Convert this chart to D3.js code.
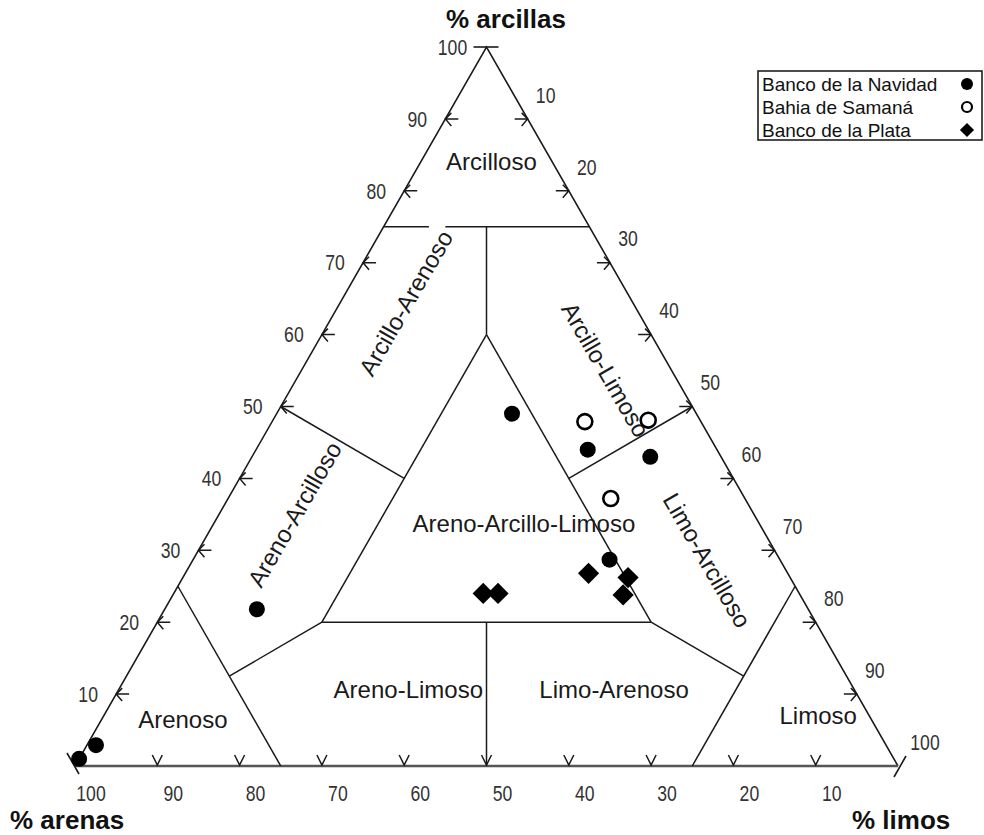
<!DOCTYPE html>
<html>
<head>
<meta charset="utf-8">
<script src="https://cdn.jsdelivr.net/npm/d3@7/dist/d3.min.js"></script>
<style>
  html, body { margin: 0; padding: 0; background: #fff; }
  svg { display: block; font-family: "Liberation Sans", Arial, sans-serif; }
</style>
</head>
<body>
<svg id="chart" width="984" height="835"></svg>
<script>
// Ternary soil-texture diagram: % arcillas (top), % arenas (left), % limos (right)

// Samples: clay, silt, sand percentages
const navidadClay = [49, 44, 43, 28.7, 21.8, 2.9, 1];
const navidadSilt = [28.6, 40.3, 48.4, 50.6, 11.2, 1.1, 0];
const navidadSand = [22.4, 15.7, 8.6, 20.7, 67, 96, 99];

const samanaClay = [47.9, 48.1, 37.2];
const samanaSilt = [38, 45.6, 46.5];
const samanaSand = [14.1, 6.3, 16.3];

const plataClay = [24, 24, 26.8, 26.2, 23.8];
const plataSilt = [37.6, 39.4, 49, 54.1, 54.7];
const plataSand = [38.4, 36.6, 24.2, 19.7, 21.5];

// Axis tick values
const clayTicks = [10, 20, 30, 40, 50, 60, 70, 80, 90, 100];
const siltTicks = [10, 20, 30, 40, 50, 60, 70, 80, 90, 100];
const sandTicks = [100, 90, 80, 70, 60, 50, 40, 30, 20, 10];

// Texture class boundaries, each as [clay, silt] endpoints
const boundaryLines = [
  [[75, 0], [75, 5.5]],
  [[75, 7.5], [75, 25]],
  [[75, 12.5], [60, 20]],
  [[60, 20], [20, 20]],
  [[60, 20], [20, 60]],
  [[20, 20], [20, 60]],
  [[50, 0], [40, 20]],
  [[50, 50], [40, 40]],
  [[25, 0], [0, 25]],
  [[12.5, 12.5], [20, 20]],
  [[20, 40], [0, 50]],
  [[20, 60], [12.5, 75]],
  [[25, 75], [0, 75]]
];

// Texture class names with label anchor [clay, silt] and rotation
const classNames = ["Arcilloso", "Arcillo-Arenoso", "Areno-Arcilloso", "Arcillo-Limoso",
  "Limo-Arcilloso", "Areno-Arcillo-Limoso", "Areno-Limoso", "Limo-Arenoso", "Arenoso", "Limoso"];
const classAnchors = [[84, 8.6], [64.4, 8.0], [35, 9.2], [55.1, 36.9],
  [28.6, 62.5], [33.7, 37.7], [10.6, 35.2], [10.6, 60.2], [6.4, 9.9], [7, 86.8]];
const classRotation = [0, -60, -60, 60, 60, 0, 0, 0, 0, 0];

const legendNames = ["Banco de la Navidad", "Bahia de Samaná", "Banco de la Plata"];

const svg = d3.select("#chart");

const xBase = d3.scaleLinear().domain([0, 100]).range([75, 898]);
const yClay = d3.scaleLinear().domain([0, 100]).range([766, 47]);
const proj = (c, s) => [xBase(s + c / 2), yClay(c)];

const ink = "#1a1a1a";
const line = d3.line();

// Triangle frame
const T = proj(100, 0), L = proj(0, 0), R = proj(0, 100);
svg.append("path").attr("d", line([L, T, R]))
  .attr("fill", "none").attr("stroke", ink).attr("stroke-width", 1.6);
svg.append("path").attr("d", line([L, R]))
  .attr("fill", "none").attr("stroke", "#555").attr("stroke-width", 2.4);

// Corner marks
svg.append("path").attr("d", line([[T[0] - 13, T[1]], [T[0] + 12, T[1]]]))
  .attr("stroke", ink).attr("stroke-width", 1.6);
svg.append("path").attr("d", line([[L[0] - 8, L[1] - 13], [L[0] + 4, L[1] + 8]]))
  .attr("stroke", ink).attr("stroke-width", 1.6);
svg.append("path").attr("d", line([[R[0] - 4, R[1] + 11], [R[0] + 8, R[1] - 10]]))
  .attr("stroke", ink).attr("stroke-width", 1.6);

// Class boundaries
svg.append("g").selectAll("path").data(boundaryLines).join("path")
  .attr("d", d => line(d.map(p => proj(p[0], p[1]))))
  .attr("fill", "none").attr("stroke", ink).attr("stroke-width", 1.5);

// Tick arrows
const tickG = svg.append("g").attr("fill", "none").attr("stroke", ink).attr("stroke-width", 1.5);
clayTicks.filter(v => v < 100).forEach(v => {
  const [x, y] = proj(v, 0);
  tickG.append("path").attr("d", `M${x},${y}h13M${x + 6},${y - 6}L${x},${y}L${x + 6},${y + 7}`);
});
siltTicks.filter(v => v < 100).forEach(v => {
  const [x, y] = proj(100 - v, v);
  tickG.append("path").attr("d", `M${x},${y}h-13M${x - 6},${y - 6}L${x},${y}L${x - 6},${y + 7}`);
});
sandTicks.filter(v => v < 100).forEach(v => {
  const [x, y] = proj(0, 100 - v);
  tickG.append("path").attr("d", `M${x - 5},${y - 11}L${x},${y - 1}L${x + 5},${y - 11}`);
});

// Tick labels (condensed)
const tickLbl = svg.append("g").attr("fill", "#333").style("font-size", "22px");
const narrowText = (x, y, t) => tickLbl.append("text")
  .attr("transform", `translate(${x},${y}) scale(0.8,1)`)
  .attr("text-anchor", "middle").attr("dy", "0.35em").text(t);
clayTicks.forEach(v => {
  const [x, y] = proj(v, 0);
  narrowText(x - (v === 100 ? 34 : 28), y, v);
});
siltTicks.forEach(v => {
  const [x, y] = proj(100 - v, v);
  narrowText(x + (v === 100 ? 27 : 18), y - 24, v);
});
sandTicks.forEach(v => {
  const [x, y] = proj(0, 100 - v);
  narrowText(x + 16, y + 27, v);
});

// Axis titles
const title = svg.append("g").attr("fill", "#111")
  .style("font-size", "26px").style("font-weight", "bold");
title.append("text").attr("x", 506).attr("y", 28).attr("text-anchor", "middle").text("% arcillas");
title.append("text").attr("x", 10).attr("y", 829).text("% arenas");
title.append("text").attr("x", 852).attr("y", 829).text("% limos");

// Class labels
svg.append("g").attr("fill", "#1a1a1a").style("font-size", "24px")
  .selectAll("text").data(classNames).join("text")
  .attr("transform", (d, i) => {
    const [x, y] = proj(classAnchors[i][0], classAnchors[i][1]);
    return `translate(${x},${y}) rotate(${classRotation[i]})`;
  })
  .attr("text-anchor", "middle").attr("dy", "0.35em")
  .text(d => d);

// Samples
const circleSym = d3.symbol(d3.symbolCircle, Math.PI * 64);
const openSym = d3.symbol(d3.symbolCircle, Math.PI * 56);
const diamondSym = d3.symbol(d3.symbolSquare, 225);

const pts = svg.append("g");
pts.selectAll(".plata").data(plataClay).join("path").attr("class", "plata")
  .attr("d", diamondSym)
  .attr("transform", (c, i) => `translate(${proj(c, plataSilt[i])}) rotate(45)`)
  .attr("fill", "#000");
pts.selectAll(".navidad").data(navidadClay).join("path").attr("class", "navidad")
  .attr("d", circleSym)
  .attr("transform", (c, i) => `translate(${proj(c, navidadSilt[i])})`)
  .attr("fill", "#000");
pts.selectAll(".samana").data(samanaClay).join("path").attr("class", "samana")
  .attr("d", openSym)
  .attr("transform", (c, i) => `translate(${proj(c, samanaSilt[i])})`)
  .attr("fill", "#fff").attr("stroke", "#000").attr("stroke-width", 2.6);

// Legend
const lg = svg.append("g");
lg.append("rect").attr("x", 758).attr("y", 71).attr("width", 224).attr("height", 69)
  .attr("fill", "#fff").attr("stroke", "#111").attr("stroke-width", 1.5);
lg.selectAll("text").data(legendNames).join("text")
  .attr("x", 762).attr("y", (d, i) => 84 + i * 23).attr("dy", "0.35em")
  .style("font-size", "19px").attr("fill", "#111").text(d => d);
const legendSyms = [
  d3.symbol(d3.symbolCircle, Math.PI * 36)(),
  d3.symbol(d3.symbolCircle, Math.PI * 25)(),
  d3.symbol(d3.symbolSquare, 100)()
];
lg.selectAll("path").data(legendSyms).join("path")
  .attr("d", d => d)
  .attr("transform", (d, i) => `translate(967,${84 + i * 23})${i === 2 ? " rotate(45)" : ""}`)
  .attr("fill", (d, i) => i === 1 ? "#fff" : "#000")
  .attr("stroke", (d, i) => i === 1 ? "#000" : "none")
  .attr("stroke-width", 2.2);
</script>
</body>
</html>
